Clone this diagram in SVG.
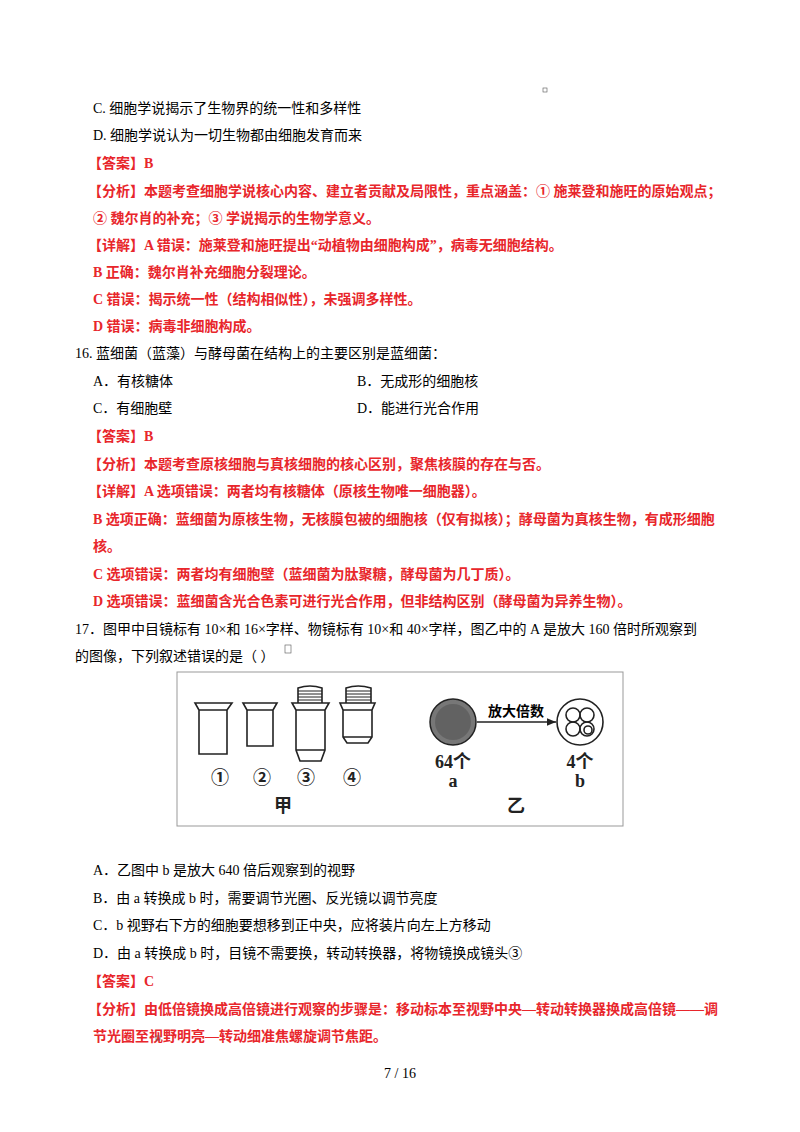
<svg xmlns="http://www.w3.org/2000/svg" width="800" height="1132" viewBox="0 0 800 1132">
<defs>
<style>
text{font-family:"Liberation Serif","Noto Sans CJK SC",serif;font-size:14px;fill:#000}
.r{fill:#e8262b;font-weight:bold}
.f{font-size:18px;font-weight:bold;fill:#222}
.l{fill:none;stroke:#222;stroke-width:1.6}
.lt{fill:none;stroke:#222;stroke-width:1}
</style>
<marker id="ah" markerWidth="8" markerHeight="8" refX="7" refY="4" orient="auto"><path d="M0,1 L7,4 L0,7 Z" fill="#222"/></marker>
</defs>
<rect width="800" height="1132" fill="#fff"/>
<rect x="543" y="88" width="4" height="4" fill="none" stroke="#555" stroke-width="0.6"/>
<text x="93" y="113">C.  细胞学说揭示了生物界的统一性和多样性</text>
<text x="93" y="140">D.  细胞学说认为一切生物都由细胞发育而来</text>
<text class="r" x="88" y="168">【答案】B</text>
<text class="r" x="88" y="196">【分析】本题考查细胞学说核心内容、建立者贡献及局限性，重点涵盖：①  施莱登和施旺的原始观点；</text>
<text class="r" x="93" y="223">②  魏尔肖的补充；③  学说揭示的生物学意义。</text>
<text class="r" x="88" y="250">【详解】A 错误：施莱登和施旺提出“动植物由细胞构成”，病毒无细胞结构。</text>
<text class="r" x="93" y="277">B 正确：魏尔肖补充细胞分裂理论。</text>
<text class="r" x="93" y="304">C 错误：揭示统一性（结构相似性），未强调多样性。</text>
<text class="r" x="93" y="331">D 错误：病毒非细胞构成。</text>
<text x="75" y="358">16. 蓝细菌（蓝藻）与酵母菌在结构上的主要区别是蓝细菌：</text>
<text x="93" y="386">A．有核糖体</text>
<text x="357" y="386">B．无成形的细胞核</text>
<text x="93" y="413">C．有细胞壁</text>
<text x="357" y="413">D．能进行光合作用</text>
<text class="r" x="88" y="441">【答案】B</text>
<text class="r" x="88" y="469">【分析】本题考查原核细胞与真核细胞的核心区别，聚焦核膜的存在与否。</text>
<text class="r" x="88" y="496">【详解】A 选项错误：两者均有核糖体（原核生物唯一细胞器）。</text>
<text class="r" x="93" y="524">B 选项正确：蓝细菌为原核生物，无核膜包被的细胞核（仅有拟核）；酵母菌为真核生物，有成形细胞</text>
<text class="r" x="93" y="551">核。</text>
<text class="r" x="93" y="579">C 选项错误：两者均有细胞壁（蓝细菌为肽聚糖，酵母菌为几丁质）。</text>
<text class="r" x="93" y="606">D 选项错误：蓝细菌含光合色素可进行光合作用，但非结构区别（酵母菌为异养生物）。</text>
<text x="75" y="634">17．图甲中目镜标有  10×和  16×字样、物镜标有  10×和  40×字样，图乙中的  A 是放大  160 倍时所观察到</text>
<text x="75" y="661">的图像，下列叙述错误的是（  ）</text>
<rect x="285" y="645" width="6" height="8" fill="none" stroke="#555" stroke-width="0.6"/>
<g id="figure">
<rect x="177" y="672" width="446" height="154" fill="#fff" stroke="#999" stroke-width="1"/>
<g id="eyepiece1"><path class="l" d="M195,703 H232 L227,710 V754 H199 V710 Z M199,710 H227"/></g>
<g id="eyepiece2"><path class="l" d="M243,703 H277 L273,710 V746 H247 V710 Z M247,710 H273"/></g>
<g id="objective3"><path class="l" d="M298,703 V688 Q310,684 322,688 V703 M292,703 H329 L325,710 V750 L321,761 H300 L296,750 V710 Z M296,710 H325 M296,750 H325"/><path class="lt" d="M298,691 H322 M298,694 H322 M298,697 H322 M298,700 H322"/></g>
<g id="objective4"><path class="l" d="M346,703 V688 Q358,684 371,688 V703 M340,703 H375 L372,710 V737 L368,743 H347 L343,737 V710 Z M343,710 H372 M343,737 H372"/><path class="lt" d="M346,691 H371 M346,694 H371 M346,697 H371 M346,700 H371"/></g>
<text class="f" x="220" y="784" text-anchor="middle">①</text>
<text class="f" x="262" y="784" text-anchor="middle">②</text>
<text class="f" x="306" y="784" text-anchor="middle">③</text>
<text class="f" x="352" y="784" text-anchor="middle">④</text>
<text class="f" x="283" y="812" text-anchor="middle" font-size="15">甲</text>
<g id="a"><circle cx="453" cy="722" r="23" fill="#777" stroke="#222" stroke-width="1.5"/><circle cx="453" cy="722" r="18" fill="#555" opacity="0.6"/>
<text class="f" x="453" y="768" text-anchor="middle">64个</text><text class="f" x="453" y="787" text-anchor="middle">a</text></g>
<g id="b"><circle cx="580" cy="722" r="23" class="l"/><circle cx="573" cy="715" r="7" class="l"/><circle cx="587" cy="715" r="7" class="l"/><circle cx="573" cy="729" r="7" class="l"/><circle cx="587" cy="729" r="7" class="l"/><circle cx="588" cy="730" r="4" class="l"/>
<text class="f" x="580" y="768" text-anchor="middle">4个</text><text class="f" x="580" y="787" text-anchor="middle">b</text></g>
<g id="connectors"><line x1="477" y1="722" x2="556" y2="722" stroke="#222" stroke-width="1.3" marker-end="url(#ah)"/></g>
<text x="516" y="716" text-anchor="middle" font-size="11" font-weight="bold">放大倍数</text>
<text class="f" x="516" y="812" text-anchor="middle" font-size="15">乙</text>
</g>
<text x="93" y="875">A．乙图中 b 是放大 640 倍后观察到的视野</text>
<text x="93" y="903">B．由 a 转换成 b 时，需要调节光圈、反光镜以调节亮度</text>
<text x="93" y="930">C．b 视野右下方的细胞要想移到正中央，应将装片向左上方移动</text>
<text x="93" y="958">D．由 a 转换成 b 时，目镜不需要换，转动转换器，将物镜换成镜头③</text>
<text class="r" x="88" y="986">【答案】C</text>
<text class="r" x="88" y="1014">【分析】由低倍镜换成高倍镜进行观察的步骤是：移动标本至视野中央—转动转换器换成高倍镜——调</text>
<text class="r" x="93" y="1041">节光圈至视野明亮—转动细准焦螺旋调节焦距。</text>
<rect x="156" y="1036" width="4" height="4" fill="none" stroke="#555" stroke-width="0.6"/>
<text x="400" y="1078" text-anchor="middle">7 / 16</text>
</svg>
